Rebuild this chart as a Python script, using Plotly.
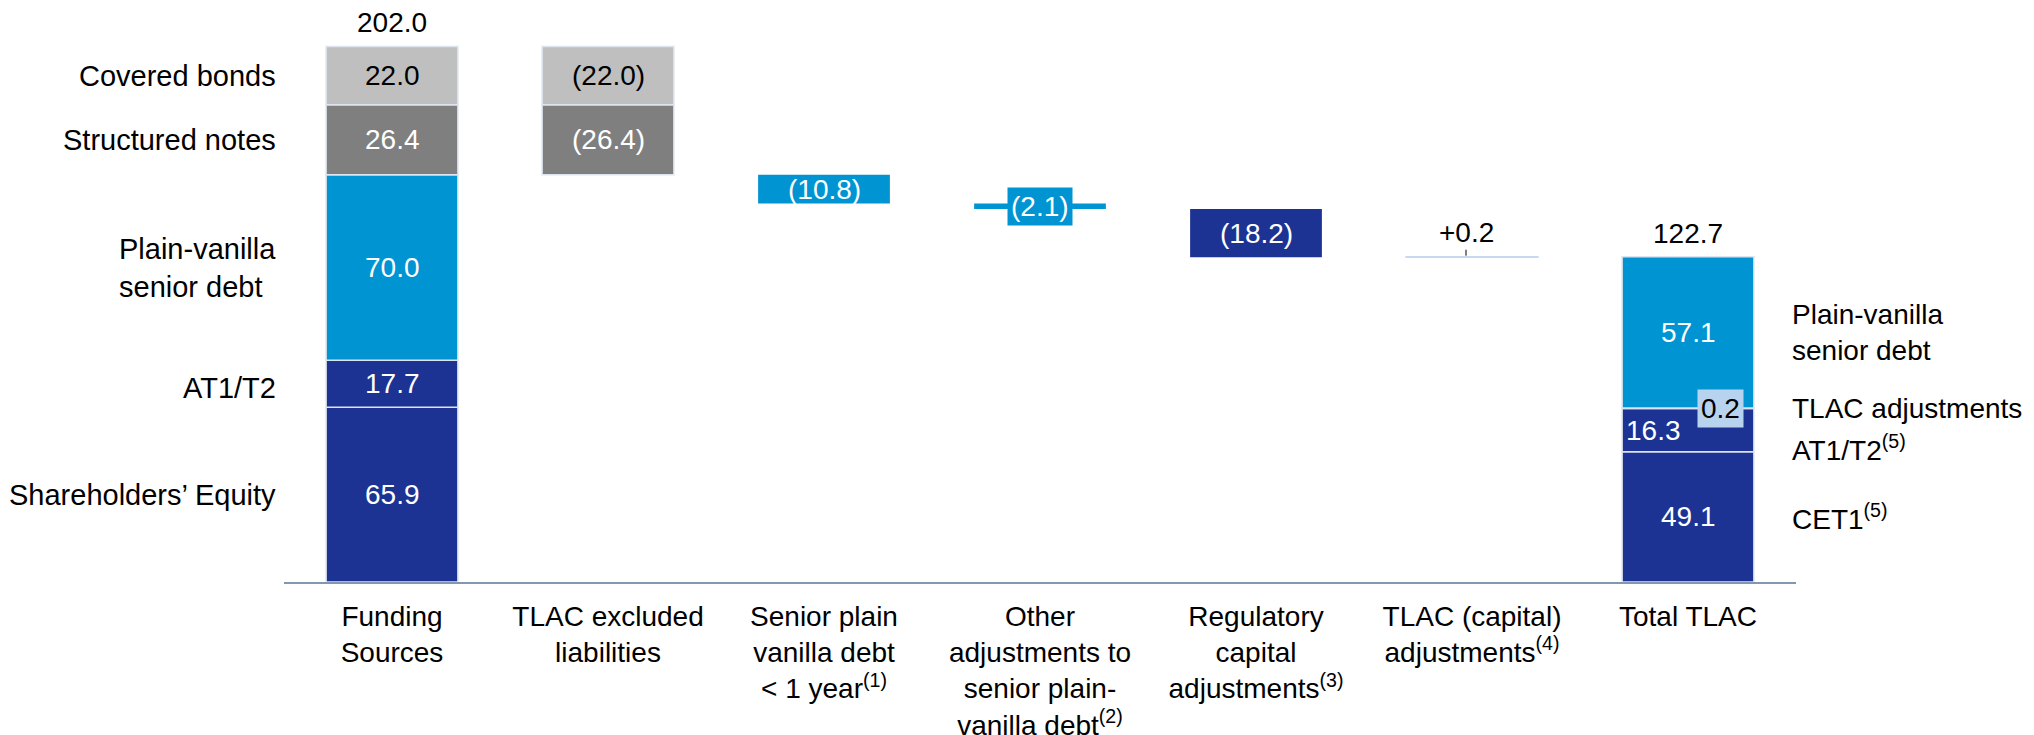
import plotly.graph_objects as go

# categories on the x axis
categories = ["funding", "excluded", "senior", "other", "regulatory", "tlac_cap", "total"]
tick_labels = [
    "Funding<br>Sources",
    "TLAC excluded<br>liabilities",
    "Senior plain<br>vanilla debt<br>&lt; 1 year<sup>(1)</sup>",
    "Other<br>adjustments to<br>senior plain-<br>vanilla debt<sup>(2)</sup>",
    "Regulatory<br>capital<br>adjustments<sup>(3)</sup>",
    "TLAC (capital)<br>adjustments<sup>(4)</sup>",
    "Total TLAC",
]

# funding sources, bottom to top
funding_names = ["Shareholders’ Equity", "AT1/T2", "Plain-vanilla<br>senior debt", "Structured notes", "Covered bonds"]
funding_values = [65.9, 17.7, 70.0, 26.4, 22.0]

# TLAC excluded liabilities, bottom to top
excluded_values = [-26.4, -22.0]

# waterfall steps
step_values = [-10.8, -2.1, -18.2, 0.2]

# total TLAC, bottom to top
total_names = ["CET1<sup>(5)</sup>", "AT1/T2<sup>(5)</sup>", "TLAC adjustments", "Plain-vanilla<br>senior debt"]
total_values = [49.1, 16.3, 0.2, 57.1]

GREY_L = "#bfbfbf"
GREY_D = "#7f7f7f"
BLUE = "#0094d3"
NAVY = "#1c3394"
PALE = "#b8d3ee"
EDGE = "#dde4ef"
FONT = "Arial, Liberation Sans, sans-serif"

funding_colors = [NAVY, NAVY, BLUE, GREY_D, GREY_L]
funding_text = ["white", "white", "white", "white", "black"]
excluded_colors = [GREY_D, GREY_L]
excluded_text = ["white", "black"]
step_colors = [BLUE, BLUE, NAVY, "#c6d9f1"]
total_colors = [NAVY, NAVY, PALE, BLUE]

W = 0.61
fig = go.Figure()
ann = []


def seg_label(x, y, text, color, **kw):
    ann.append(dict(x=x, y=y, text=text, showarrow=False,
                    font=dict(size=28, color=color, family=FONT), **kw))


# funding stack
base = 0.0
for name, v, c, tc in zip(funding_names, funding_values, funding_colors, funding_text):
    fig.add_trace(go.Bar(x=[categories[0]], y=[v], base=[base], width=W, marker_color=c,
                         marker_line=dict(color=EDGE, width=1.5), name=name))
    seg_label(categories[0], base + v / 2, f"{v:.1f}", tc)
    ann.append(dict(x=categories[0], y=base + v / 2, text=name, showarrow=False, xanchor="right",
                    align="left", xshift=-114, yshift=-4 if name == "AT1/T2" else 0,
                    font=dict(size=29, color="black", family=FONT)))
    base += v
funding_total = base
seg_label(categories[0], funding_total, f"{funding_total:.1f}", "black", yanchor="bottom", yshift=6)

# excluded liabilities (top segment removed first)
running = funding_total
exc_bases = []
for v in reversed(excluded_values):
    running += v
    exc_bases.append(running)
exc_bases = list(reversed(exc_bases))
for v, b, c, tc in zip(excluded_values, exc_bases, excluded_colors, excluded_text):
    fig.add_trace(go.Bar(x=[categories[1]], y=[-v], base=[b], width=W, marker_color=c,
                         marker_line=dict(color=EDGE, width=1.5)))
    seg_label(categories[1], b - v / 2, f"({-v:.1f})", tc)

# waterfall steps
for cat, v, c in zip(categories[2:6], step_values, step_colors):
    b = running + min(v, 0)
    fig.add_trace(go.Bar(x=[cat], y=[abs(v)], base=[b], width=W, marker_color=c,
                         marker_line=dict(color=c, width=1.5 if v > 0 else 0)))
    if v > 0:
        # label sits above with a short vertical leader line
        ann.append(dict(x=cat, y=b + v, text=f"+{v:.1f}", showarrow=True, arrowhead=0,
                        arrowwidth=1, arrowcolor="black", ax=0, ay=-24, standoff=1, xshift=-6,
                        font=dict(size=28, color="black", family=FONT)))
    elif abs(v) < 5:
        seg_label(cat, b + abs(v) / 2, f"({-v:.1f})", "white", bgcolor=c, borderpad=3)
    else:
        seg_label(cat, b + abs(v) / 2, f"({-v:.1f})", "white")
    running += v

# total stack
base = 0.0
for i, (name, v, c) in enumerate(zip(total_names, total_values, total_colors)):
    fig.add_trace(go.Bar(x=[categories[6]], y=[v], base=[base], width=W, marker_color=c,
                         marker_line=dict(color=EDGE, width=1.5), name=name))
    if i == 1:
        seg_label(categories[6], base + v / 2, f"{v:.1f}", "white", xshift=-35)
    elif i == 2:
        seg_label(categories[6], base + v / 2, f"{v:.1f}", "black", xshift=32, bgcolor=PALE, borderpad=3)
    else:
        seg_label(categories[6], base + v / 2, f"{v:.1f}", "white")
    ann.append(dict(x=categories[6], y=base + v / 2, text=name, showarrow=False, xanchor="left",
                    align="left", xshift=102, yshift=-18 if i == 1 else 0,
                    font=dict(size=28, color="black", family=FONT)))
    base += v
seg_label(categories[6], base, f"{base:.1f}", "black", yanchor="bottom", yshift=6)

fig.update_layout(
    width=2034,
    height=735,
    margin=dict(l=276, r=246, t=4, b=161),
    barmode="overlay",
    showlegend=False,
    plot_bgcolor="white",
    paper_bgcolor="white",
    font=dict(family=FONT, color="black"),
    annotations=ann,
    xaxis=dict(
        type="category",
        tickvals=categories,
        ticktext=tick_labels,
        range=[-0.5, 6.5],
        showline=True,
        linecolor="#8497b0",
        linewidth=2,
        showgrid=False,
        ticks="outside",
        ticklen=8,
        tickcolor="rgba(0,0,0,0)",
        automargin=False,
        tickfont=dict(size=28, color="black", family=FONT),
    ),
    yaxis=dict(range=[0, 215], visible=False, showgrid=False, automargin=False),
)

fig.write_html("out.html")
